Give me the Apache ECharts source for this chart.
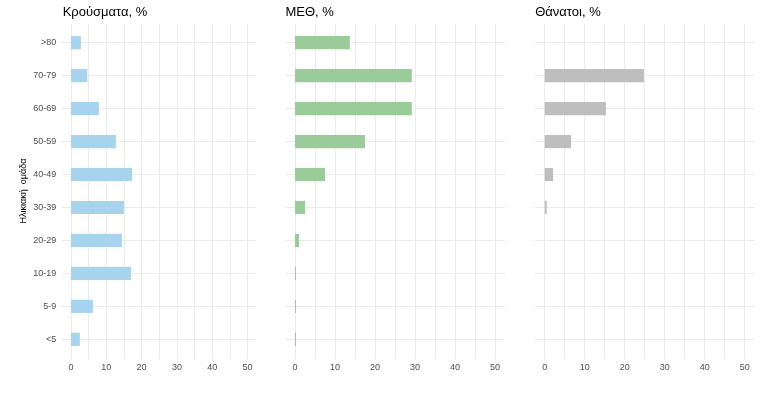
<!DOCTYPE html>
<html>
<head>
<meta charset="utf-8">
<script src="https://cdn.jsdelivr.net/npm/echarts@6/dist/echarts.min.js"></script>
<style>html,body{margin:0;padding:0;background:#fff;}#c{width:771px;height:393px;}</style>
</head>
<body>
<div id="c"></div>
<script>
// Data (percent)
const categories = ["<5", "5-9", "10-19", "20-29", "30-39", "40-49", "50-59", "60-69", "70-79", ">80"];
const cases  = [2.5, 6.2, 17.0, 14.4, 15.0, 17.3, 12.7, 7.9, 4.6, 2.8];
const icu    = [0.25, 0.25, 0.25, 1.0, 2.5, 7.5, 17.5, 29.2, 29.2, 13.7];
const deaths = [0, 0, 0, 0, 0.5, 2.1, 6.6, 15.3, 24.8, 0];
const titles = ["Κρούσματα, %", "ΜΕΘ, %", "Θάνατοι, %"];
const xTicks = [0, 10, 20, 30, 40, 50];
const yTitle = "Ηλικιακή  ομάδα";

const seriesData = [cases, icu, deaths];
const colors = ["#a6d4ee", "#99cc99", "#bebebe"];

// panel geometry: zero pixel and pixels per unit
const panels = [
  { x0: 71, ppu: 3.53 },
  { x0: 295, ppu: 4.0 },
  { x0: 544.7, ppu: 4.0 }
];
const frameTop = 24, frameH = 335;
const plotTop = 42.7, plotH = 296.6;

const grid = [], xAxis = [], yAxis = [], series = [], title = [];
panels.forEach((p, i) => {
  const fi = i * 2, pi = i * 2 + 1;
  grid.push({ left: p.x0, top: frameTop, width: 50 * p.ppu, height: frameH, containLabel: false });
  grid.push({ left: p.x0 - 2.5 * p.ppu, top: plotTop, width: 55 * p.ppu, height: plotH, containLabel: false });
  xAxis.push({
    type: 'value', gridIndex: fi, min: 0, max: 50, interval: 5,
    axisLine: { show: false }, axisTick: { show: false },
    splitLine: { show: true, lineStyle: { color: '#ebebeb', width: 1 } },
    axisLabel: {
      show: true, color: '#4d4d4d', fontSize: 9, fontFamily: 'Liberation Sans, Arial, sans-serif', margin: 4,
      formatter: v => (xTicks.indexOf(v) >= 0 ? String(v) : '')
    }
  });
  xAxis.push({
    type: 'value', gridIndex: pi, min: -2.5, max: 52.5, show: false,
    splitLine: { show: false }
  });
  yAxis.push({ type: 'value', gridIndex: fi, show: false, min: 0, max: 1, splitLine: { show: false } });
  yAxis.push({
    type: 'category', gridIndex: pi, data: categories, boundaryGap: false,
    axisLine: { show: false }, axisTick: { show: false },
    splitLine: { show: true, lineStyle: { color: '#ebebeb', width: 1 } },
    axisLabel: {
      show: i === 0, color: '#4d4d4d', fontSize: 9, fontFamily: 'Liberation Sans, Arial, sans-serif', margin: 6
    },
    name: i === 0 ? yTitle : '', nameLocation: 'middle', nameRotate: 90, nameGap: 34,
    nameTextStyle: { color: '#000', fontSize: 9, fontFamily: 'Liberation Sans, Arial, sans-serif' }
  });
  series.push({
    type: 'bar', xAxisIndex: pi, yAxisIndex: pi, data: seriesData[i],
    barWidth: 13.2, clip: false, itemStyle: { color: colors[i] }, silent: true
  });
  title.push({
    text: titles[i], left: p.x0 - 2.5 * p.ppu + 0.5, top: 6, padding: 0,
    textStyle: { fontSize: 13, fontWeight: 'normal', color: '#000', fontFamily: 'Liberation Sans, Arial, sans-serif' }
  });
});

const chart = echarts.init(document.getElementById('c'), null, { renderer: 'canvas' });
chart.setOption({ animation: false, backgroundColor: '#fff', title, grid, xAxis, yAxis, series });
</script>
</body>
</html>
